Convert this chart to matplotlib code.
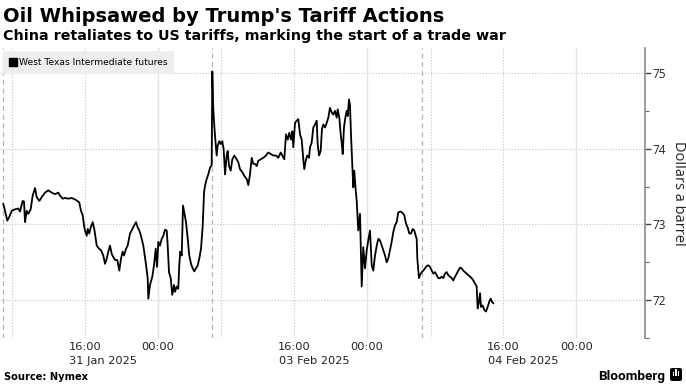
import matplotlib
matplotlib.use("Agg")
import matplotlib.pyplot as plt
from matplotlib.lines import Line2D
from matplotlib.patches import FancyBboxPatch, Rectangle

# ---------------- data ----------------
# trading hours elapsed since the 31 Jan 2025 07:00 session open (weekend / daily breaks removed)
hours = [
    0.03, 0.22, 0.47, 0.69, 0.96, 1.32, 1.68, 1.87, 2.16, 2.31, 2.42, 2.60, 2.78, 3.04, 3.26, 3.52,
    3.70, 3.99, 4.25, 4.62, 4.98, 5.35, 5.71, 6.08, 6.26, 6.56, 6.81, 7.18, 7.55, 7.91, 8.16, 8.38,
    8.57, 8.76, 8.90, 9.01, 9.20, 9.31, 9.48, 9.64, 9.86, 10.03, 10.30, 10.55, 10.77, 11.02, 11.21,
    11.40, 11.57, 11.76, 11.95, 12.12, 12.31, 12.56, 12.78, 12.97, 13.15, 13.30, 13.52, 13.70, 13.96,
    14.21, 14.43, 14.62, 14.80, 14.98, 15.16, 15.42, 15.68, 15.90, 15.97, 16.15, 16.41, 16.59, 16.78,
    16.92, 17.07, 17.25, 17.44, 17.62, 17.80, 17.99, 18.10, 18.24, 18.43, 18.60, 18.79, 18.90, 19.09,
    19.26, 19.37, 19.48, 19.64, 19.78, 19.92, 20.11, 20.30, 20.47, 20.66, 20.85, 21.02, 21.21, 21.40,
    21.57, 21.76, 21.95, 22.09, 22.20, 22.38, 22.56, 22.75, 22.93,
    23.00, 23.11, 23.22, 23.30, 23.48, 23.59, 23.77, 23.96, 24.10, 24.25, 24.40, 24.58, 24.69, 24.84,
    25.02, 25.20, 25.42, 25.68, 25.86, 26.04, 26.30, 26.52, 26.78, 26.96, 27.14, 27.33, 27.51, 27.69,
    27.88, 28.05, 28.32, 28.60, 28.90, 29.15, 29.42, 29.70, 30.00, 30.25, 30.52, 30.69, 30.91, 31.10,
    31.29, 31.46, 31.65, 31.79, 31.90, 32.09, 32.27, 32.45, 32.64, 32.82, 33.00, 33.11, 33.30, 33.44,
    33.63, 33.74, 33.92, 34.10, 34.29, 34.47, 34.58, 34.73, 34.91, 35.05, 35.20, 35.38, 35.57, 35.75,
    35.93, 36.12, 36.30, 36.48, 36.67, 36.78, 36.96, 37.11, 37.22, 37.33, 37.47, 37.62, 37.77, 37.88,
    38.02, 38.13, 38.24, 38.38, 38.49, 38.60, 38.76, 38.87, 39.04, 39.23, 39.42, 39.59, 39.78, 39.97,
    40.14, 40.33, 40.52, 40.69, 40.88, 41.07, 41.24, 41.43, 41.62, 41.79, 41.98, 42.16, 42.34, 42.53,
    42.71, 42.89, 43.08, 43.26, 43.44, 43.70, 43.92, 44.10, 44.29, 44.47, 44.65, 44.84, 45.02, 45.20,
    45.35, 45.46, 45.53, 45.71, 45.82,
    46.01, 46.19, 46.37, 46.56, 46.74, 46.92, 47.11, 47.29, 47.47, 47.66, 47.84, 48.02, 48.21, 48.38,
    48.57, 48.76, 48.93, 49.12, 49.31, 49.48, 49.67, 49.86, 50.03, 50.22, 50.41, 50.58, 50.77, 50.96,
    51.13, 51.32, 51.51, 51.68, 51.87, 52.05, 52.16, 52.31, 52.42, 52.53, 52.71, 52.89, 53.08, 53.26,
    53.44, 53.59, 53.77, 53.88,
]
wti = [
    73.27, 73.18, 73.05, 73.10, 73.18, 73.20, 73.21, 73.17, 73.31, 73.30, 73.03, 73.18, 73.14, 73.20, 73.38, 73.48,
    73.36, 73.31, 73.36, 73.42, 73.45, 73.42, 73.40, 73.42, 73.38, 73.34, 73.35, 73.34, 73.35, 73.33, 73.31, 73.29,
    73.18, 73.12, 72.99, 72.92, 72.85, 72.94, 72.88, 72.96, 73.03, 72.94, 72.72, 72.68, 72.66, 72.59, 72.48,
    72.55, 72.64, 72.72, 72.61, 72.57, 72.53, 72.53, 72.39, 72.55, 72.64, 72.59, 72.68, 72.72, 72.88,
    72.94, 72.99, 73.03, 72.96, 72.92, 72.85, 72.72, 72.50, 72.29, 72.02, 72.20, 72.31, 72.46, 72.68,
    72.44, 72.77, 72.72, 72.81, 72.85, 72.93, 72.92, 72.72, 72.37, 72.29, 72.07, 72.20, 72.11, 72.18,
    72.15, 72.46, 72.64, 72.59, 73.25, 73.16, 73.03, 72.81, 72.59, 72.48, 72.42, 72.38, 72.42, 72.46,
    72.55, 72.68, 72.99, 73.42, 73.51, 73.60, 73.66, 73.75, 73.78,
    75.02, 74.52, 74.30, 74.17, 73.91, 74.04, 74.10, 74.06, 74.10, 73.99, 73.66, 73.91, 73.97, 73.77,
    73.71, 73.86, 73.91, 73.86, 73.82, 73.73, 73.69, 73.64, 73.60, 73.52, 73.66, 73.88, 73.80, 73.80,
    73.77, 73.84, 73.86, 73.88, 73.91, 73.95, 73.93, 73.91, 73.91, 73.88, 73.95, 73.91, 73.86, 74.19,
    74.12, 74.21, 74.12, 74.23, 74.02, 74.34, 74.37, 74.39, 74.19, 74.12, 73.86, 73.73, 73.86, 73.91,
    73.88, 74.02, 74.08, 74.28, 74.32, 74.37, 74.06, 73.91, 73.97, 74.26, 74.32, 74.28, 74.34, 74.41,
    74.54, 74.48, 74.45, 74.50, 74.41, 74.52, 74.41, 74.19, 74.08, 73.93, 74.28, 74.41, 74.50, 74.43,
    74.65, 74.58, 74.19, 73.80, 73.49, 73.71, 73.45, 73.31, 72.92, 73.14, 72.18, 72.70, 72.42, 72.66,
    72.79, 72.92, 72.46, 72.39, 72.59, 72.72, 72.81, 72.79, 72.72, 72.66, 72.59, 72.50, 72.55, 72.66,
    72.77, 72.90, 72.99, 73.03, 73.16, 73.17, 73.15, 73.12, 73.01, 72.96, 72.88, 72.88, 72.94, 72.92,
    72.85, 72.81, 72.55, 72.29, 72.33,
    72.37, 72.39, 72.42, 72.45, 72.46, 72.44, 72.39, 72.35, 72.37, 72.33, 72.29, 72.29, 72.31, 72.29,
    72.35, 72.37, 72.33, 72.31, 72.29, 72.26, 72.31, 72.35, 72.39, 72.43, 72.42, 72.39, 72.37, 72.35,
    72.33, 72.31, 72.29, 72.26, 72.22, 72.18, 71.89, 71.98, 72.09, 71.91, 71.93, 71.87, 71.85, 71.91,
    71.98, 72.02, 71.97, 71.96,
]
# each trading session opens at 07:00 local time; value = elapsed trading hours at the open
session_dates = ["31 Jan 2025", "03 Feb 2025", "04 Feb 2025"]
session_opens = [0, 23, 46]
open_clock = 7
y_ticks = [72, 73, 74, 75]
y_minor = [71.5, 72.5, 73.5, 74.5]

title = "Oil Whipsawed by Trump's Tariff Actions"
subtitle = "China retaliates to US tariffs, marking the start of a trade war"
legend_label = "West Texas Intermediate futures"
y_label = "Dollars a barrel"
source = "Source: Nymex"

# ---------------- figure ----------------
W, H = 686, 390
fig = plt.figure(figsize=(W / 100, H / 100), dpi=100)
fig.patch.set_facecolor("white")

def fx(px):
    return px / W

def fy(py):
    return 1 - py / H

ax_top, ax_bot, ax_right = 48, 338, 645
ax = fig.add_axes([0, fy(ax_bot), fx(ax_right), (ax_bot - ax_top) / H])
ax.set_xlim(-0.33, 70.55)
ax.set_ylim(71.52, 75.33)

for side in ("top", "left", "bottom"):
    ax.spines[side].set_visible(False)
ax.spines["right"].set_color("#8a8a8a")
ax.spines["right"].set_linewidth(1.2)

# grid lines
for v in y_ticks:
    ax.axhline(v, color="#c4c4c4", lw=0.8, linestyle=(0, (1, 1.6)), zorder=1)
for s in session_opens:
    ax.axvline(s, color="#b5b5b5", lw=0.9, linestyle=(0, (4, 3)), zorder=1)
    ax.axvline(s + (8 - open_clock), color="#c4c4c4", lw=0.8, linestyle=(0, (1, 1.6)), zorder=1)
    ax.axvline(s + (16 - open_clock), color="#c4c4c4", lw=0.8, linestyle=(0, (1, 1.6)), zorder=1)
    ax.axvline(s + (24 - open_clock), color="#e3e3e3", lw=1.0, zorder=1)

ax.plot(hours, wti, color="black", lw=1.3, zorder=3, label=legend_label)

# x ticks: 16:00 and 00:00 of each session, date under 16:00
xt, xl = [], []
for s in session_opens:
    xt += [s + (16 - open_clock), s + (24 - open_clock)]
    xl += ["16:00", "00:00"]
ax.set_xticks(xt)
ax.set_xticklabels(xl, fontsize=8.2, color="#222222")
ax.tick_params(axis="x", length=0, pad=3)
for s, d in zip(session_opens, session_dates):
    ax.annotate(d, xy=(s + (16 - open_clock), 0), xycoords=("data", "axes fraction"),
                xytext=(-15.5, -17.5), textcoords="offset pixels", ha="left", va="top",
                fontsize=8.2, color="#222222")

# y axis on the right
ax.yaxis.tick_right()
ax.set_yticks(y_ticks)
ax.set_yticks(y_minor, minor=True)
ax.set_yticklabels([str(v) for v in y_ticks], fontsize=8.5, family="Open Sans", color="#222222")
ax.tick_params(axis="y", which="major", length=4, width=1.0, color="#444444", pad=1.5)
ax.tick_params(axis="y", which="minor", length=3, width=0.8, color="#666666")
ax.yaxis.set_label_position("right")
ax.set_ylabel(y_label, rotation=270, fontsize=10.5, family="Open Sans", color="#222222", labelpad=14)

# legend
handle = Line2D([], [], marker="s", color="black", linestyle="none", markersize=5.2)
leg = ax.legend([handle], [legend_label], loc="upper left",
                bbox_to_anchor=(fx(3), fy(51)), bbox_transform=fig.transFigure,
                fontsize=6.6, frameon=True, fancybox=False, facecolor="#eeeeee",
                edgecolor="#eeeeee", framealpha=1, borderaxespad=0, borderpad=0.75,
                handlelength=0.6, handletextpad=0.35)
leg.get_frame().set_linewidth(0)

# titles
fig.text(fx(3), fy(22), title, fontsize=14, weight="bold", va="baseline", color="black")
fig.text(fx(3), fy(40), subtitle, fontsize=10.3, weight="bold", va="baseline", color="black")

# footer
fig.text(fx(4), fy(380), source, fontsize=7.1, weight="bold", va="baseline", color="black")
fig.text(fx(665), fy(380), "Bloomberg", fontsize=9.7, weight="bold", family="Roboto",
         ha="right", va="baseline", color="black")
icon = FancyBboxPatch((fx(670), fy(381)), fx(12), 13 / H, boxstyle="round,pad=0,rounding_size=0.004",
                      transform=fig.transFigure, facecolor="black", edgecolor="none")
fig.patches.append(icon)
for i, hgt in enumerate([4, 7, 5]):
    fig.patches.append(Rectangle((fx(672.5 + i * 2.6), fy(376)), fx(1.4), hgt / H,
                                 transform=fig.transFigure, facecolor="white", edgecolor="none"))

fig.savefig("out.png", dpi=100)
